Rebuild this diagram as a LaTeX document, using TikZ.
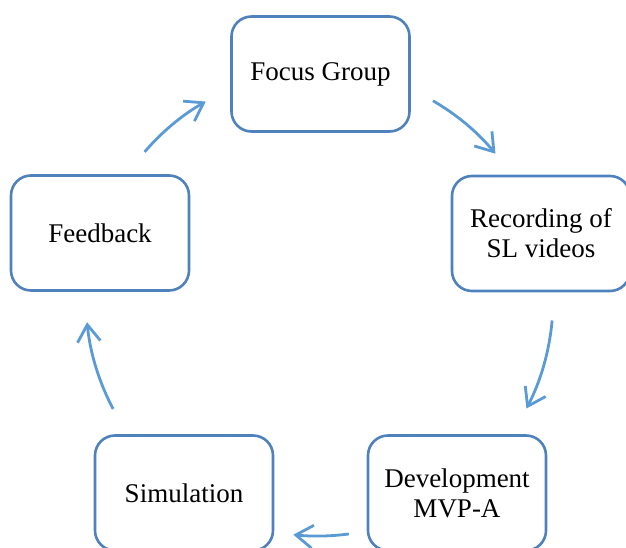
\documentclass[tikz,border=0pt]{standalone}
\usepackage{fontspec}
\setmainfont{Liberation Serif}
\usetikzlibrary{arrows.meta,calc}
\definecolor{boxblue}{RGB}{79,129,189}
\definecolor{arrblue}{RGB}{91,155,213}
\begin{document}
\begin{tikzpicture}[x=1pt,y=1pt,
  stagebox/.style={draw=boxblue,line width=2.6pt,rounded corners=20pt,fill=white,
    minimum width=178pt,minimum height=115pt,align=center,
    font=\fontsize{27}{30}\selectfont,inner sep=0pt},
  cyclearrow/.style={draw=arrblue,line width=2.8pt,
    -{Straight Barb[length=17pt,width=23pt,line width=2.8pt]}}]
\useasboundingbox (0,0) rectangle (626,547);
\node[stagebox] (fg)  at (320.5,473) {Focus Group};
\node[stagebox] (rec) at (541,313.5) {Recording of\\SL videos};
\node[stagebox] (dev) at (457,54) {Development\\MVP-A};
\node[stagebox] (sim) at (184,54) {Simulation};
\node[stagebox] (fb)  at (100,314) {Feedback};
\coordinate (ctr) at (318,247);
\coordinate (a1) at ($(ctr)+(60:230)$);
\coordinate (a2) at ($(ctr)+(-5:235)$);
\coordinate (a3) at ($(ctr)+(-82.5:236)$);
\coordinate (a4) at ($(ctr)+(208:232)$);
\coordinate (a5) at ($(ctr)+(139.5:228)$);
\draw[cyclearrow] (a1) arc[start angle=60,end angle=39.5,radius=230];
\draw[cyclearrow] (a2) arc[start angle=-5,end angle=-27.5,radius=235];
\draw[cyclearrow] (a3) arc[start angle=-82.5,end angle=-96,radius=236];
\draw[cyclearrow] (a4) arc[start angle=208,end angle=185.5,radius=232];
\draw[cyclearrow] (a5) arc[start angle=139.5,end angle=119.5,radius=228];
\end{tikzpicture}
\end{document}
